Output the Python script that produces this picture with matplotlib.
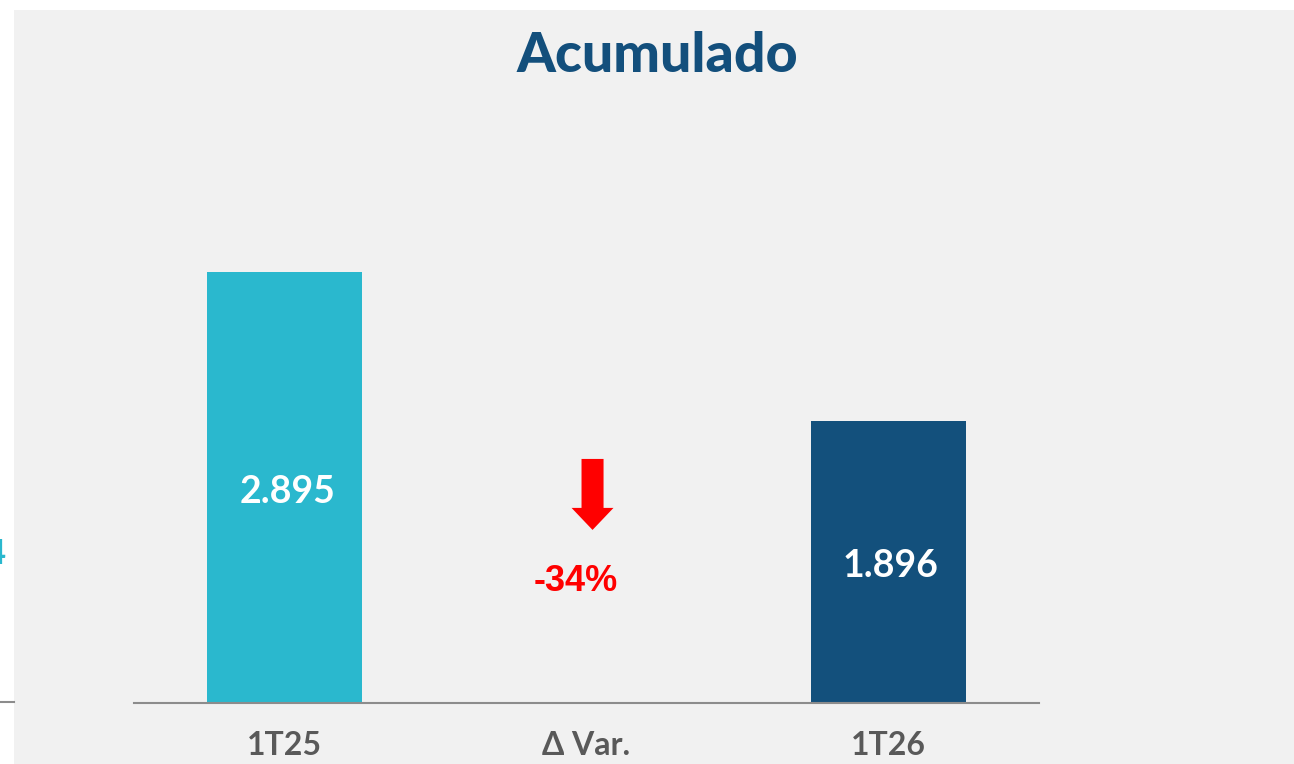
import matplotlib
matplotlib.use("Agg")
import matplotlib.pyplot as plt
from matplotlib.patches import Rectangle
from matplotlib.lines import Line2D

# data
categories = ["1T25", "Δ Var.", "1T26"]
bar_positions = [0, 2]
bar_values = [2895, 1896]
bar_colors = ["#2AB8CE", "#13507C"]
var_label = "-34%"
title = "Acumulado"

W, H, DPI = 1294, 764, 100
fig = plt.figure(figsize=(W / DPI, H / DPI), dpi=DPI, facecolor="white")

# grey panel behind the chart
fig.patches.append(Rectangle((14 / W, 0), 1 - 14 / W, (H - 10) / H,
                             transform=fig.transFigure, facecolor="#F1F1F1",
                             edgecolor="none", zorder=-10))

# clipped bits of the neighbouring chart on the left edge
fig.text(6 / W, 1 - 554 / H, "4", color="#2AB8CE", fontsize=25, family="Lato",
         weight="bold", ha="right", va="center")
fig.lines.append(Line2D([0, 14 / W], [1 - 702 / H] * 2, transform=fig.transFigure,
                        color="#8C8C8C", lw=1.5))

ax = fig.add_axes([134 / W, (H - 703) / H, 905 / W, 603 / H])
ax.set_facecolor("none")
ax.set_zorder(1)
ax.set_xlim(-0.5, 2.5)
ax.set_ylim(0, 4052)

bars = ax.bar(bar_positions, bar_values, width=0.514, color=bar_colors, zorder=2)
for b, v in zip(bars, bar_values):
    ax.annotate(f"{v:,}".replace(",", "."), (b.get_x() + b.get_width() / 2, v / 2),
                xytext=(2, -3), textcoords="offset points",
                color="white", fontsize=27, family="Lato", weight="bold",
                ha="center", va="center")

# variation arrow and label
ax.arrow(1.02, 1640, 0, -477, width=0.073, head_width=0.139, head_length=148,
         length_includes_head=True, color="#FF0000", lw=0)
ax.annotate(var_label, (0.963, 827), xytext=(0, -1), textcoords="offset points",
            color="#FF0000", fontsize=26, family="Liberation Sans", weight="bold",
            ha="center", va="center")

ax.set_xticks(range(len(categories)))
ax.set_xticklabels(categories, fontsize=23, family="Lato", weight="bold",
                   color="#595959")
ax.tick_params(axis="x", length=0, pad=20)
ax.set_yticks([])
for s in ["top", "left", "right"]:
    ax.spines[s].set_visible(False)
ax.spines["bottom"].set_color("#8C8C8C")
ax.spines["bottom"].set_linewidth(1.5)

fig.text(657 / W, 1 - 56 / H, title, color="#134F7C", fontsize=40, family="Lato",
         weight="black", ha="center", va="center")

fig.savefig("out.png", dpi=DPI, facecolor=fig.get_facecolor())
